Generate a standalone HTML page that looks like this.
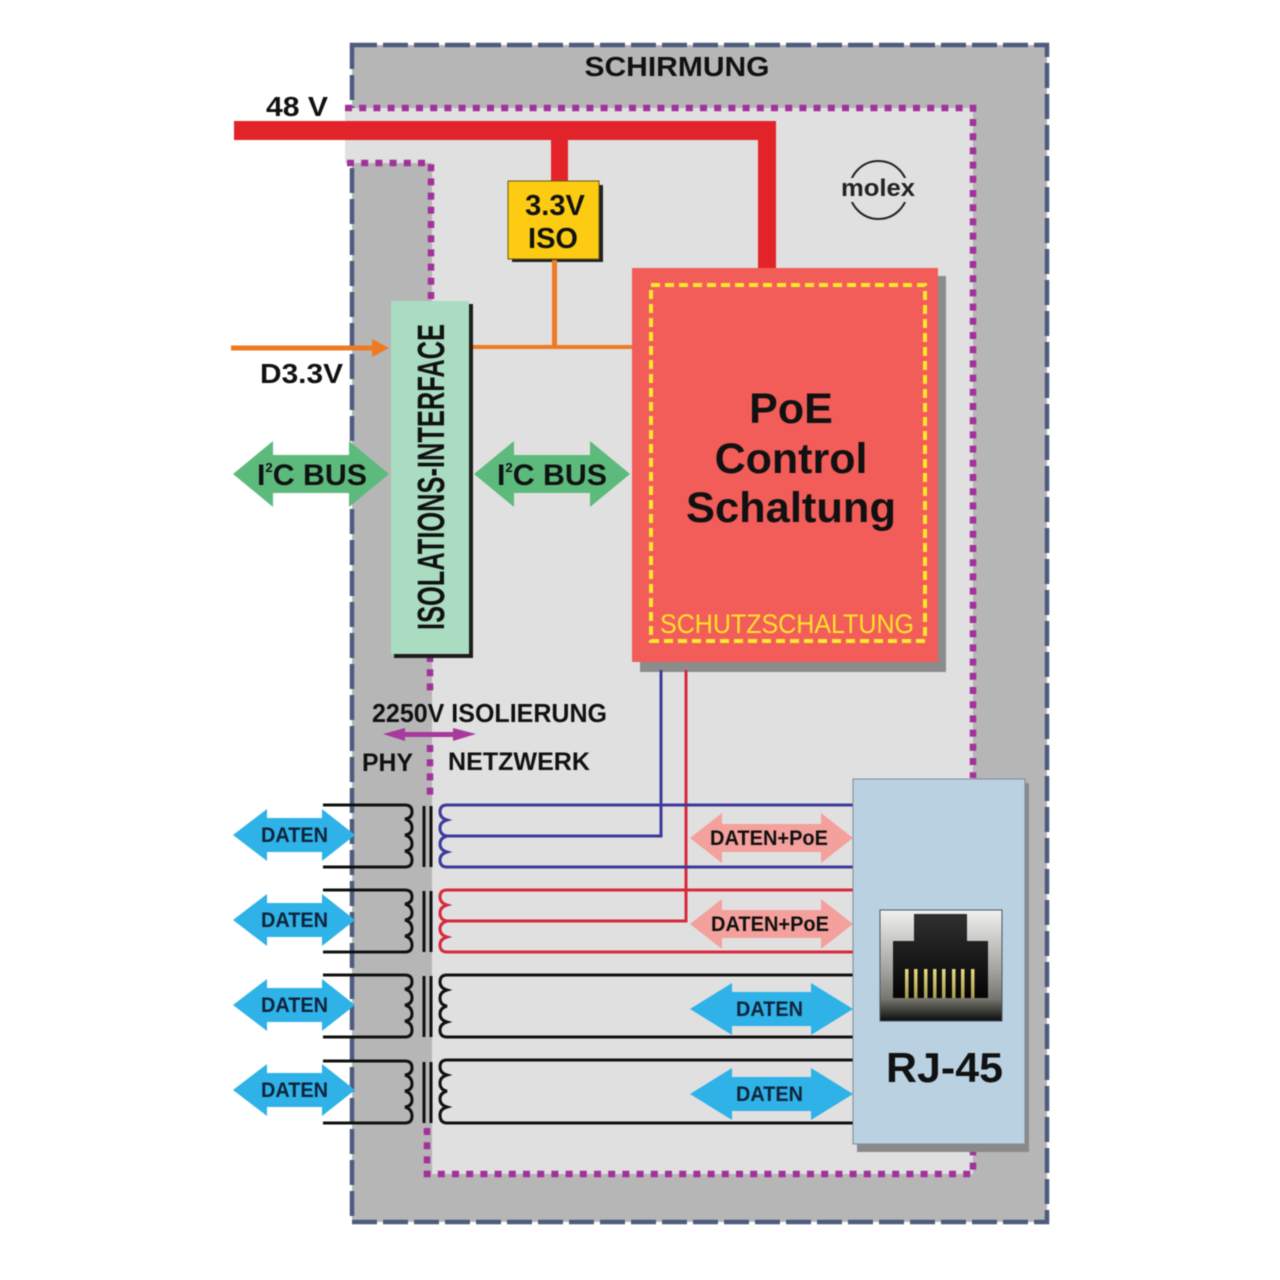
<!DOCTYPE html>
<html><head><meta charset="utf-8"><style>
html,body{margin:0;padding:0;background:#fff}
svg{display:block;filter:blur(.6px)}
text{font-family:"Liberation Sans",sans-serif;font-weight:bold;fill:#111}
text.n{fill:#10233a}
</style></head><body>
<svg width="1280" height="1280" viewBox="0 0 1280 1280" xmlns="http://www.w3.org/2000/svg">
<defs>
<linearGradient id="g1" x1="0" y1="0" x2="0" y2="1"><stop offset="0" stop-color="#f0f0ee"/><stop offset=".55" stop-color="#a2a29e"/><stop offset=".8" stop-color="#77776f"/><stop offset="1" stop-color="#0c0c0c"/></linearGradient>
<linearGradient id="g2" x1="0" y1="0" x2="0" y2="1"><stop offset="0" stop-color="#303030"/><stop offset="1" stop-color="#050505"/></linearGradient>
<linearGradient id="g3" x1="0" y1="0" x2="0" y2="1"><stop offset="0" stop-color="#e8dc80"/><stop offset="1" stop-color="#a89a50"/></linearGradient>
<g id="lc" fill="none" stroke="#111" stroke-width="3">
<path d="M323 0H405Q412 0 412 7Q412 13 405 14Q412 16 412 23Q412 29 405 30Q412 32 412 39Q412 45 405 46Q412 48 412 55Q412 62 405 62H323"/>
<path d="M424 1V62M431 1V62"/>
</g>
</defs>
<rect x="352" y="45" width="695" height="1177" fill="#b6b6b6"/>
<rect x="352" y="45" width="695" height="1177" fill="none" stroke="#4d5b7e" stroke-width="4.5" stroke-dasharray="25 6"/>
<path d="M345 108H973V1174H432V163H345Z" fill="#e0e0e0"/>
<g fill="none" stroke="#a1329b" stroke-width="6.5" stroke-dasharray="7 7.2">
<path d="M345 108H973V778"/>
<path d="M347 163H431V300"/>
<path d="M430 655V697"/>
<path d="M430 745V795"/>
<path d="M427 1128V1174H973V1146"/>
</g>
<text x="677" y="76" font-size="28" text-anchor="middle" textLength="185" lengthAdjust="spacingAndGlyphs">SCHIRMUNG</text>
<text x="266" y="116" font-size="28" textLength="62" lengthAdjust="spacingAndGlyphs">48 V</text>
<path d="M234 121H776V268H758V140H568V181H551V140H234Z" fill="#e2242a"/>
<rect x="512" y="185" width="91" height="77" fill="#222"/>
<rect x="508" y="181" width="91" height="78" fill="#fccb12" stroke="#6a5a10" stroke-width="1"/>
<text x="555" y="215" font-size="29" text-anchor="middle">3.3V</text>
<text x="553" y="248" font-size="29" text-anchor="middle">ISO</text>
<g fill="#ef7a22">
<path d="M231 345.500H372V339L389 348L372 357V350.500H231Z"/>
<rect x="471" y="345" width="162" height="4"/>
<rect x="552" y="260" width="5" height="87"/>
</g>
<text x="260" y="383" font-size="27.5" textLength="83" lengthAdjust="spacingAndGlyphs">D3.3V</text>
<rect x="394" y="304" width="79" height="354" fill="#1d1d1d"/>
<rect x="391" y="301" width="78" height="353" fill="#a9dcc1"/>
<text transform="translate(444 630) rotate(-90)" font-size="38" textLength="306" lengthAdjust="spacingAndGlyphs">ISOLATIONS-INTERFACE</text>
<path d="M233 474L273 441V455H349V441L389 474L349 507V493H273V507Z" fill="#5cba7c"/>
<path d="M474 474L514 441V455H590V441L630 474L590 507V493H514V507Z" fill="#5cba7c"/>
<text x="257" y="485" font-size="30" textLength="110" lengthAdjust="spacingAndGlyphs">I<tspan font-size="13" dy="-13">2</tspan><tspan dy="13">C BUS</tspan></text>
<text x="497" y="485" font-size="30" textLength="110" lengthAdjust="spacingAndGlyphs">I<tspan font-size="13" dy="-13">2</tspan><tspan dy="13">C BUS</tspan></text>
<rect x="640" y="276" width="306" height="396" fill="#8c8c8c"/>
<rect x="632" y="268" width="306" height="394" fill="#f25d59"/>
<rect x="651" y="285" width="274" height="356" fill="none" stroke="#ffe832" stroke-width="4" stroke-dasharray="9 5"/>
<g font-size="43" text-anchor="middle">
<text x="791" y="423">PoE</text>
<text x="791" y="473">Control</text>
<text x="791" y="522" textLength="210" lengthAdjust="spacingAndGlyphs">Schaltung</text>
</g>
<text x="660" y="633" font-size="26.5" style="fill:#ffe22c;font-weight:normal" textLength="254" lengthAdjust="spacingAndGlyphs">SCHUTZSCHALTUNG</text>
<g fill="none" stroke-width="3">
<path d="M661 670V836H447" stroke="#3c3a9c"/>
<path d="M686 670V921H447" stroke="#d9283c"/>
<path stroke="#3c3a9c" d="M853 805H447Q440 805 440 812Q440 818 447 820Q440 822 440 828Q440 835 447 836Q440 838 440 844Q440 850 447 852Q440 854 440 860Q440 867 447 867H853"/>
<path stroke="#d9283c" d="M853 890H447Q440 890 440 897Q440 903 447 905Q440 907 440 913Q440 920 447 921Q440 923 440 929Q440 935 447 937Q440 939 440 945Q440 952 447 952H853"/>
<path stroke="#111" d="M853 975H447Q440 975 440 982Q440 988 447 990Q440 992 440 998Q440 1005 447 1006Q440 1008 440 1014Q440 1020 447 1022Q440 1024 440 1030Q440 1037 447 1037H853"/>
<path stroke="#111" d="M853 1060H447Q440 1060 440 1067Q440 1073 447 1075Q440 1077 440 1083Q440 1090 447 1091Q440 1093 440 1099Q440 1105 447 1107Q440 1109 440 1115Q440 1123 447 1123H853"/>
</g>
<use href="#lc" y="805"/><use href="#lc" y="890"/><use href="#lc" y="975"/><use href="#lc" y="1061"/>
<g fill="#2eb2e8">
<path d="M233 835L267 809V818H322V809L355 835L322 861V852H267V861Z"/>
<path d="M233 920L267 894V903H322V894L355 920L322 946V937H267V946Z"/>
<path d="M233 1005L267 979V988H322V979L355 1005L322 1031V1022H267V1031Z"/>
<path d="M233 1090L267 1064V1073H322V1064L355 1090L322 1116V1107H267V1116Z"/>
<path d="M690 1009L732 983V992H811V983L853 1009L811 1035V1026H732V1035Z"/>
<path d="M690 1094L732 1068V1077H811V1068L853 1094L811 1120V1111H732V1120Z"/>
</g>
<g fill="#f4a09c">
<path d="M690 838L722 813V824H821V813L853 838L821 863V852H722V863Z"/>
<path d="M690 924L722 899V910H821V899L853 924L821 949V938H722V949Z"/>
</g>
<g font-size="21">
<text class="n" x="261" y="842" textLength="67" lengthAdjust="spacingAndGlyphs">DATEN</text>
<text class="n" x="261" y="927" textLength="67" lengthAdjust="spacingAndGlyphs">DATEN</text>
<text class="n" x="261" y="1012" textLength="67" lengthAdjust="spacingAndGlyphs">DATEN</text>
<text class="n" x="261" y="1097" textLength="67" lengthAdjust="spacingAndGlyphs">DATEN</text>
<text class="n" x="736" y="1016" textLength="67" lengthAdjust="spacingAndGlyphs">DATEN</text>
<text class="n" x="736" y="1101" textLength="67" lengthAdjust="spacingAndGlyphs">DATEN</text>
</g>
<text x="710" y="845" font-size="21" textLength="118" lengthAdjust="spacingAndGlyphs">DATEN+PoE</text>
<text x="711" y="931" font-size="21" textLength="118" lengthAdjust="spacingAndGlyphs">DATEN+PoE</text>
<text x="372" y="722" font-size="25.5" textLength="235" lengthAdjust="spacingAndGlyphs">2250V ISOLIERUNG</text>
<path d="M383 734L405 728V732H453V728L476 734L453 741V737H405V741Z" fill="#a83a9e"/>
<text x="362" y="771" font-size="25" textLength="51" lengthAdjust="spacingAndGlyphs">PHY</text>
<text x="448" y="770" font-size="25" textLength="142" lengthAdjust="spacingAndGlyphs">NETZWERK</text>
<rect x="857" y="783" width="172" height="369" fill="#8a8a8a"/>
<rect x="853" y="779" width="172" height="365" fill="#b9d1e1" stroke="#7f8c96" stroke-width="1"/>
<rect x="880" y="910" width="122" height="111" fill="url(#g1)" stroke="#4a5560" stroke-width="1"/>
<path d="M893 941H914V914H967V941H988V998H893Z" fill="url(#g2)"/>
<g fill="url(#g3)">
<rect x="905" y="969" width="3.500" height="29"/><rect x="914" y="969" width="3.500" height="29"/><rect x="924" y="969" width="3.500" height="29"/><rect x="933" y="969" width="3.500" height="29"/><rect x="942" y="969" width="3.500" height="29"/><rect x="952" y="969" width="3.500" height="29"/><rect x="961" y="969" width="3.500" height="29"/><rect x="971" y="969" width="3.500" height="29"/>
</g>
<text x="886" y="1082" font-size="42" textLength="117" lengthAdjust="spacingAndGlyphs">RJ-45</text>
<circle cx="878.500" cy="190" r="29" fill="none" stroke="#222" stroke-width="2"/>
<rect x="840" y="178" width="78" height="24" fill="#e0e0e0"/>
<text x="841" y="196" font-size="24" textLength="74" lengthAdjust="spacingAndGlyphs" style="fill:#222">molex</text>
</svg>
</body></html>
